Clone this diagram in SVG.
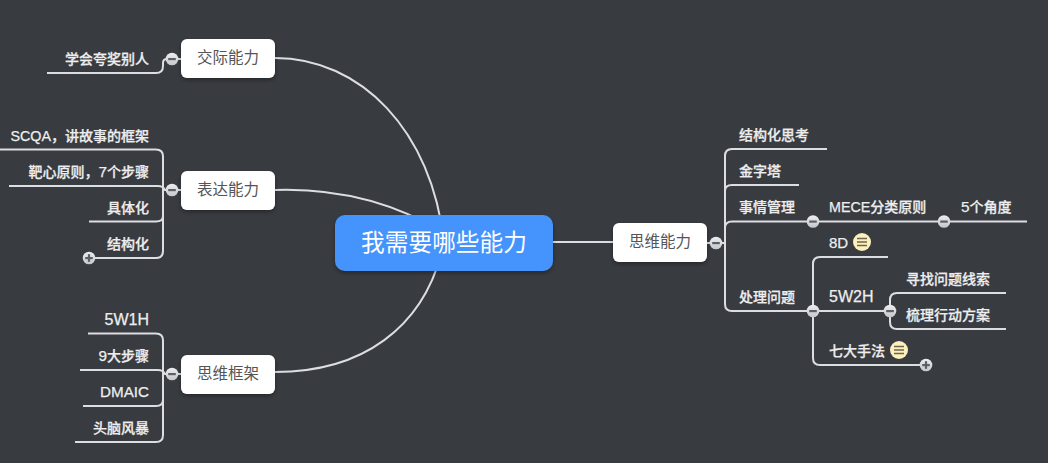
<svg xmlns="http://www.w3.org/2000/svg" width="1048" height="463" viewBox="0 0 1048 463">
<defs>
<filter id="sh" x="-20%" y="-30%" width="140%" height="170%"><feDropShadow dx="0" dy="2" stdDeviation="2" flood-color="#000" flood-opacity="0.35"/></filter>
<linearGradient id="btn" x1="0" y1="0" x2="0" y2="1"><stop offset="0" stop-color="#eceef0"/><stop offset="1" stop-color="#c4c7cb"/></linearGradient>
<g id="minus"><circle r="6.300" fill="url(#btn)"/><rect x="-3.800" y="-1" width="7.600" height="2.200" fill="#5c6066"/></g>
<g id="plus"><circle r="6.300" fill="url(#btn)"/><rect x="-3.800" y="-1" width="7.600" height="2.200" fill="#5c6066"/><rect x="-1.100" y="-3.800" width="2.200" height="7.600" fill="#5c6066"/></g>
<g id="note"><circle r="9" fill="#fdf0bd"/><path d="M-5 -3.500H5M-5 0H5M-5 3.500H5" stroke="#6b6650" stroke-width="1.400" fill="none"/></g>
</defs>
<style>
text{font-family:"Liberation Sans","Noto Sans CJK SC",sans-serif}
.l{fill:none;stroke:#dcdee1;stroke-width:2}
.b{fill:#fff}
.bt{font-size:15.500px;fill:#555;text-anchor:middle}
.c{font-size:14px;fill:#eeeeee;font-weight:500;stroke:#eeeeee;stroke-width:0.250px}
.e{text-anchor:end}
.a{font-size:15.300px}
.m{font-size:14.300px}
</style>
<rect width="1048" height="463" fill="#383b40"/>
<g id="connectors">
<path class="l" d="M275 58C360 58 432 130 444 243"/>
<path class="l" d="M275 190C340 188 395 203 444 233"/>
<path class="l" d="M275 372C360 372 425 330 444 243"/>
<path class="l" d="M553 242H613"/>
<path class="l" d="M707 243H716"/>
<path class="l" d="M181 59H172M47 73H156Q163 73 163 66V63Q163 59 167 59H172"/>
<path class="l" d="M181 190H172M0 149.500H156Q163 149.500 163 156.500V251Q163 258 156 258H89M9 186H158Q163 186 165 190H172M89 221.500H156Q163 221.500 163 216"/>
<path class="l" d="M181 374H172M88 333.500H156Q163 333.500 163 340.500V435Q163 442 156 442H75M80 370H158Q163 370 165 374H172M83 406H156Q163 406 163 400"/>
<path class="l" d="M707 243H725M827 149H732Q725 149 725 156V304Q725 311 732 311H813M799 185H732Q725 185 725 191M1027 221.500H732Q725 221.500 725 228"/>
<path class="l" d="M888 257H820Q813 257 813 264V358Q813 365 820 365H926M813 311H890"/>
<path class="l" d="M1006 293H897Q890 293 890 300V322Q890 329 897 329H1006"/>
</g>
<g id="root"><rect x="335" y="215" width="218" height="56" rx="10" fill="#4593fd" filter="url(#sh)"/><text x="444" y="251" font-size="23.700" fill="#fff" text-anchor="middle">我需要哪些能力</text></g>
<g id="n-jiaoji"><rect class="b" x="181" y="39" width="94" height="39" rx="6" filter="url(#sh)"/><text class="bt" x="228" y="63">交际能力</text></g>
<g id="n-biaoda"><rect class="b" x="181" y="171" width="94" height="39" rx="6" filter="url(#sh)"/><text class="bt" x="228" y="195">表达能力</text></g>
<g id="n-kuangjia"><rect class="b" x="181" y="355" width="94" height="39" rx="6" filter="url(#sh)"/><text class="bt" x="228" y="379">思维框架</text></g>
<g id="n-siwei"><rect class="b" x="613" y="223" width="94" height="39" rx="6" filter="url(#sh)"/><text class="bt" x="660" y="247">思维能力</text></g>
<g id="t-1"><text class="c e" x="149" y="64">学会夸奖别人</text></g>
<g id="t-2"><text class="c e" x="149" y="141"><tspan class="m">SCQA</tspan>，讲故事的框架</text></g>
<g id="t-3"><text class="c e" x="149" y="177">靶心原则，<tspan class="a">7</tspan>个步骤</text></g>
<g id="t-4"><text class="c e" x="149" y="213">具体化</text></g>
<g id="t-5"><text class="c e" x="149" y="249">结构化</text></g>
<g id="t-6"><text class="c e" x="149" y="325" style="font-size:16px">5W1H</text></g>
<g id="t-7"><text class="c e" x="149" y="361"><tspan class="a">9</tspan>大步骤</text></g>
<g id="t-8"><text class="c e" x="149" y="397" style="font-size:15.200px">DMAIC</text></g>
<g id="t-9"><text class="c e" x="149" y="433">头脑风暴</text></g>
<g id="t-10"><text class="c" x="739" y="140">结构化思考</text></g>
<g id="t-11"><text class="c" x="739" y="176">金字塔</text></g>
<g id="t-12"><text class="c" x="739" y="212">事情管理</text></g>
<g id="t-13"><text class="c" x="739" y="302">处理问题</text></g>
<g id="t-14"><text class="c" x="829" y="212"><tspan class="m">MECE</tspan>分类原则</text></g>
<g id="t-15"><text class="c" x="961" y="212"><tspan class="a">5</tspan>个角度</text></g>
<g id="t-16"><text class="c" x="829" y="248" style="font-size:15px">8D</text><use href="#note" x="862" y="242"/></g>
<g id="t-17"><text class="c" x="829" y="302" style="font-size:16px">5W2H</text></g>
<g id="t-18"><text class="c" x="829" y="356">七大手法</text><use href="#note" x="899" y="350"/></g>
<g id="t-19"><text class="c" x="906" y="284">寻找问题线索</text></g>
<g id="t-20"><text class="c" x="906" y="320">梳理行动方案</text></g>
<g id="buttons">
<use href="#minus" x="172" y="59"/><use href="#minus" x="172" y="190"/><use href="#plus" x="89" y="258"/><use href="#minus" x="172" y="374"/>
<use href="#minus" x="716" y="243"/><use href="#minus" x="813" y="221.500"/><use href="#minus" x="944" y="221.500"/><use href="#minus" x="813" y="311"/><use href="#minus" x="890" y="311"/><use href="#plus" x="926" y="365"/>
</g>
</svg>
